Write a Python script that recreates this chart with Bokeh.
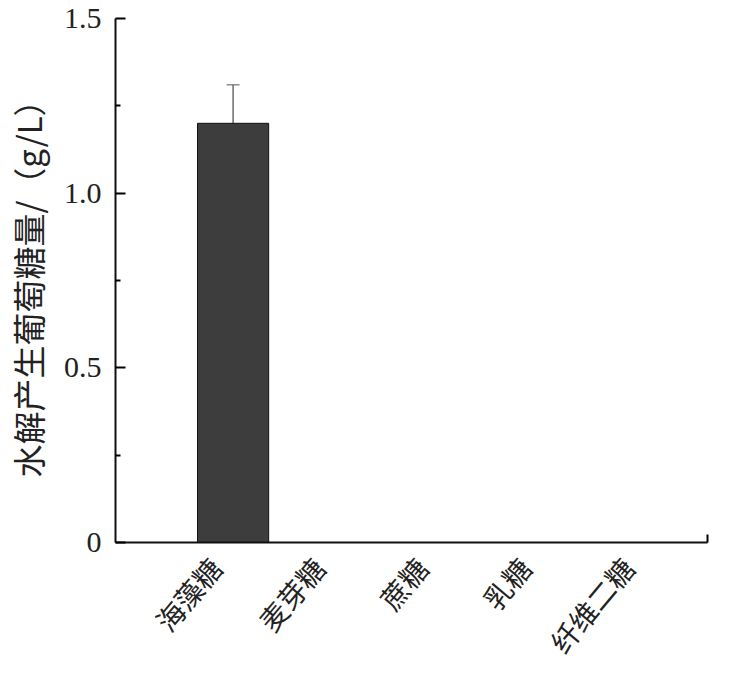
import math
from bokeh.plotting import figure
from bokeh.models import ColumnDataSource, Range1d, FixedTicker, Whisker, TeeHead
from bokeh.embed import file_html
from bokeh.resources import INLINE

categories = ["海藻糖", "麦芽糖", "蔗糖", "乳糖", "纤维二糖"]
positions = [1, 2, 3, 4, 5]
values = [1.20, 0.0, 0.0, 0.0, 0.0]
errors = [0.11, 0.0, 0.0, 0.0, 0.0]
y_ticks = [0, 0.5, 1.0, 1.5]
y_tick_labels = ["0", "0.5", "1.0", "1.5"]
y_minor = [0.25, 0.75, 1.25]

X_START, X_END = -0.14, 5.6
Y_START, Y_END = 0, 1.5

src = ColumnDataSource(dict(x=positions, top=values))
err_idx = [i for i, e in enumerate(errors) if e > 0]
err_src = ColumnDataSource(dict(
    x=[positions[i] for i in err_idx],
    upper=[values[i] + errors[i] for i in err_idx],
    lower=[values[i] - errors[i] for i in err_idx],
))

p = figure(width=723, height=676, output_backend="svg", toolbar_location=None,
           x_range=Range1d(X_START, X_END), y_range=Range1d(Y_START, Y_END),
           min_border_left=114, min_border_right=16, min_border_top=18, min_border_bottom=129)
p.outline_line_color = None
p.xgrid.visible = False
p.ygrid.visible = False

p.vbar(x="x", top="top", width=0.69, source=src, fill_color="#3d3d3d", line_color="#111111", line_width=1)

w = Whisker(base="x", upper="upper", lower="lower", source=err_src,
            line_color="#222222", line_width=1,
            upper_head=TeeHead(size=13, line_color="#555555", line_width=1),
            lower_head=TeeHead(size=13, line_color="#555555", line_width=1))
p.add_layout(w)

# y axis
ya = p.yaxis[0]
ya.ticker = FixedTicker(ticks=y_ticks, minor_ticks=y_minor)
ya.major_label_overrides = {t: l for t, l in zip(y_ticks, y_tick_labels)}
ya.axis_line_width = 2
ya.axis_line_color = "#111111"
ya.major_tick_in = 10
ya.major_tick_out = 0
ya.minor_tick_in = 5
ya.minor_tick_out = 0
ya.major_tick_line_width = 2
ya.minor_tick_line_width = 2
ya.major_label_text_font = "Liberation Serif"
ya.major_label_text_font_size = "30px"
ya.major_label_text_color = "#222222"
ya.major_label_standoff = 14
ya.axis_label = "水解产生葡萄糖量/（g/L）"
ya.axis_label_text_font = "Noto Sans CJK SC"
ya.axis_label_text_font_style = "normal"
ya.axis_label_text_font_size = "33px"
ya.axis_label_text_color = "#222222"
ya.axis_label_standoff = 9

# x axis (ideographic space keeps the rotated label's end just left of its tick)
xa = p.xaxis[0]
xa.ticker = FixedTicker(ticks=positions, minor_ticks=[X_END])
xa.major_label_overrides = {pos: c + "\u3000" for pos, c in zip(positions, categories)}
xa.major_label_orientation = math.radians(50)
xa.major_label_text_font = "Noto Sans CJK SC"
xa.major_label_text_font_size = "28px"
xa.major_label_text_color = "#222222"
xa.major_label_standoff = -2
xa.axis_line_width = 2
xa.axis_line_color = "#111111"
xa.major_tick_in = 0
xa.major_tick_out = 0
xa.minor_tick_in = 8
xa.minor_tick_out = 0
xa.minor_tick_line_width = 2

open("out.html", "w").write(file_html(p, INLINE))
